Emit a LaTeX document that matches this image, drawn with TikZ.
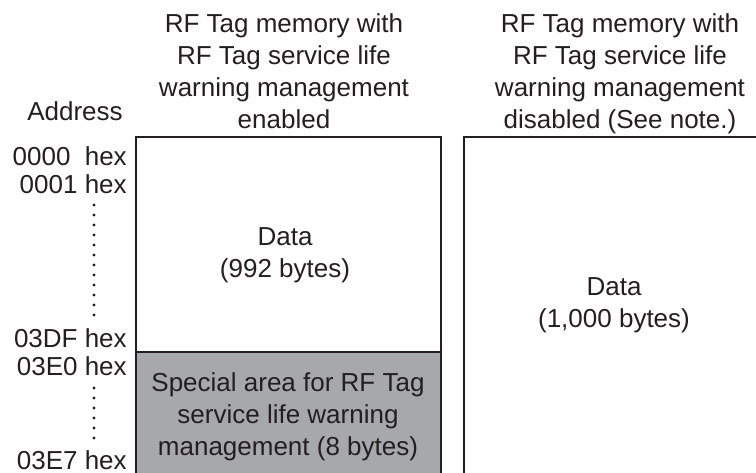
\documentclass[tikz,border=0pt]{standalone}
\usepackage{fontspec}
\setmainfont{Liberation Sans}
\usetikzlibrary{positioning}
\definecolor{ink}{HTML}{231F20}
\definecolor{areagray}{HTML}{A7A8AB}

\begin{document}
\begin{tikzpicture}[
    x=0.75pt, y=-0.75pt,
    lbl/.style={font=\fontsize{19.5}{24}\selectfont, text=ink, inner sep=0pt},
    head/.style={lbl, align=center, anchor=base},
    addr/.style={lbl, anchor=base east},
    memline/.style={draw=ink, line width=1.5pt},
    dotcol/.style={draw=ink, line width=2.4pt, line cap=round, dash pattern=on 0pt off 7.5pt}
]
\useasboundingbox (0,0) rectangle (756,472);
\clip (0,0) rectangle (756,472);

% Memory blocks (both run past the lower edge)
\fill[areagray] (136,352) rectangle (441,490);
\draw[memline] (136,490) -- (136,137) -- (441,137) -- (441,490);
\draw[memline] (136,352) -- (441,352);
\draw[memline] (464,490) -- (464,137) -- (780,137);

% Column headings (base = last line)
\node[head] (hdon) at (284,128) {RF Tag memory with\\RF Tag service life\\warning management\\enabled};
\node[head] (hdoff) at (620,128) {RF Tag memory with\\RF Tag service life\\warning management\\disabled (See note.)};
\node[lbl, anchor=base] (addrhd) at (75,120) {Address};

% Addresses
\node[addr] (a0000) at (127,165) {0000\hspace{0.55em}hex};
\node[addr] (a0001) at (127,193) {0001 hex};
\node[addr] (a03DF) at (127,347) {03DF hex};
\node[addr] (a03E0) at (127,375) {03E0 hex};
\node[addr] (a03E7) at (127,469) {03E7 hex};

\coordinate (dotx) at (94,0);
\draw[dotcol, shorten <=9pt, shorten >=23.7pt] (a0001.base -| dotx) -- (a03DF.base -| dotx);
\draw[dotcol, shorten <=9.75pt, shorten >=23pt] (a03E0.base -| dotx) -- (a03E7.base -| dotx);

% Area contents
\node[head] (dataon) at (285,277) {Data\\(992 bytes)};
\node[head] (special) at (288,455) {Special area for RF Tag\\service life warning\\management (8 bytes)};
\node[head] (dataoff) at (614,327) {Data\\(1,000 bytes)};

\end{tikzpicture}
\end{document}
